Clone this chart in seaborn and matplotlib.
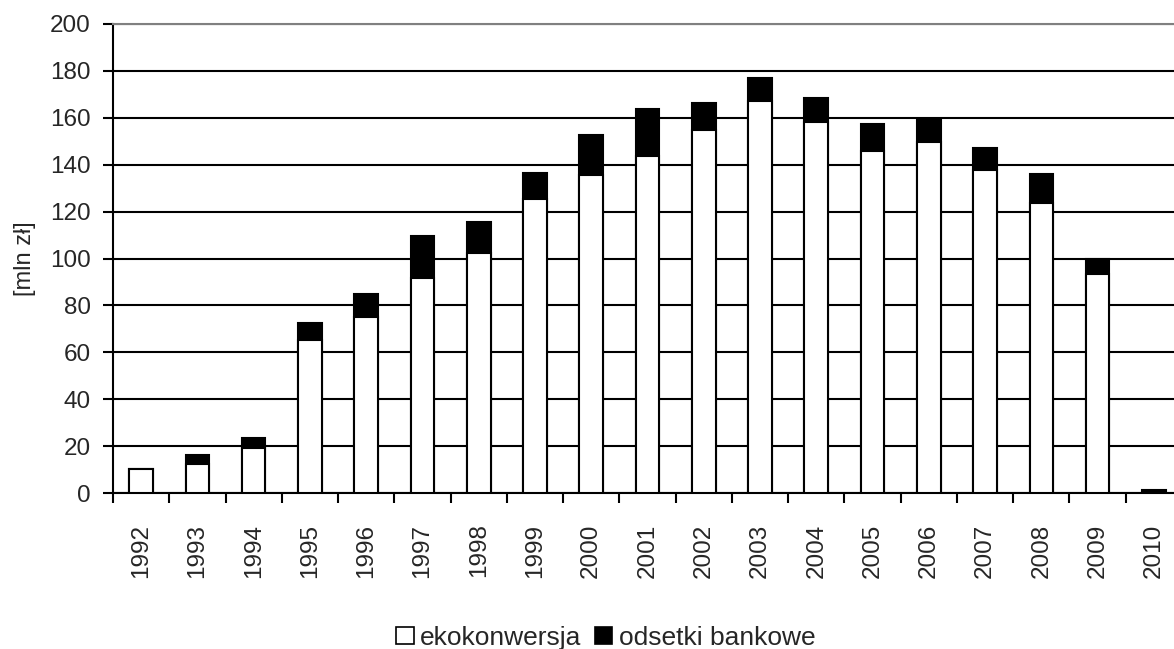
import numpy as np
import pandas as pd
import seaborn as sns
import matplotlib.pyplot as plt
from matplotlib.patches import Patch

# ============================
# DATA
# ============================
years = [str(y) for y in range(1992, 2011)]
ekokonwersja = [10.2, 12.4, 19.0, 65.1, 75.0, 91.8, 102.4, 125.5, 135.5, 143.7,
                154.8, 167.1, 158.0, 145.7, 149.6, 137.6, 123.8, 93.5, 0.0]
odsetki = [0.0, 4.0, 4.6, 7.4, 10.0, 17.7, 13.1, 11.1, 17.3, 20.0,
           11.7, 9.7, 10.5, 11.6, 9.5, 9.5, 12.2, 6.5, 1.1]
y_ticks = list(range(0, 201, 20))

df = pd.DataFrame({"rok": years, "ekokonwersja": ekokonwersja, "odsetki": odsetki})
df["suma"] = df["ekokonwersja"] + df["odsetki"]

# ============================
# STYLE
# ============================
sns.set_style("white")
plt.rcParams["font.family"] = ["Liberation Sans", "DejaVu Sans"]
fs = 17.5

fig = plt.figure(figsize=(11.74, 6.49), dpi=100)
ax = fig.add_axes([113 / 1174, 1 - 493 / 649, (1182 - 113) / 1174, (493 - 24) / 649])

# stacked bars: total in black, ekokonwersja in white on top
sns.barplot(data=df, x="rok", y="suma", color="black", width=0.42, saturation=1,
            edgecolor="black", linewidth=1.5, ax=ax, zorder=3)
sns.barplot(data=df, x="rok", y="ekokonwersja", color="white", width=0.42, saturation=1,
            edgecolor="black", linewidth=1.5, ax=ax, zorder=4)

ax.set_xlim(-0.5, len(years) - 0.5)
ax.set_ylim(0, 200)
ax.set_yticks(y_ticks)
ax.yaxis.grid(True, color="black", linewidth=1.5)
ax.set_axisbelow(True)

# ticks between categories
ax.set_xticks(np.arange(-0.5, len(years), 1.0), minor=True)
ax.tick_params(axis="x", which="major", length=0, pad=22, labelsize=fs, rotation=90)
ax.tick_params(axis="x", which="minor", length=7, width=1.5, color="black", bottom=True)
ax.tick_params(axis="y", length=7, width=1.5, color="black", left=True, pad=9, labelsize=fs)

ax.spines["right"].set_visible(False)
ax.spines["top"].set_color("#808080")
ax.spines["top"].set_linewidth(1.5)
for side in ["left", "bottom"]:
    ax.spines[side].set_color("black")
    ax.spines[side].set_linewidth(1.5)

ax.set_xlabel("")
ax.set_ylabel("[mln zł]", fontsize=fs - 0.5, labelpad=10)

handles = [Patch(facecolor="white", edgecolor="black", linewidth=1.2, label="ekokonwersja"),
           Patch(facecolor="black", edgecolor="black", linewidth=1.2, label="odsetki bankowe")]
fig.legend(handles=handles, loc="lower center", bbox_to_anchor=(0.516, -0.038), ncol=2,
           frameon=False, fontsize=19, handlelength=0.65, handleheight=0.65,
           handletextpad=0.25, columnspacing=0.5)

fig.savefig("out.png", dpi=100)
